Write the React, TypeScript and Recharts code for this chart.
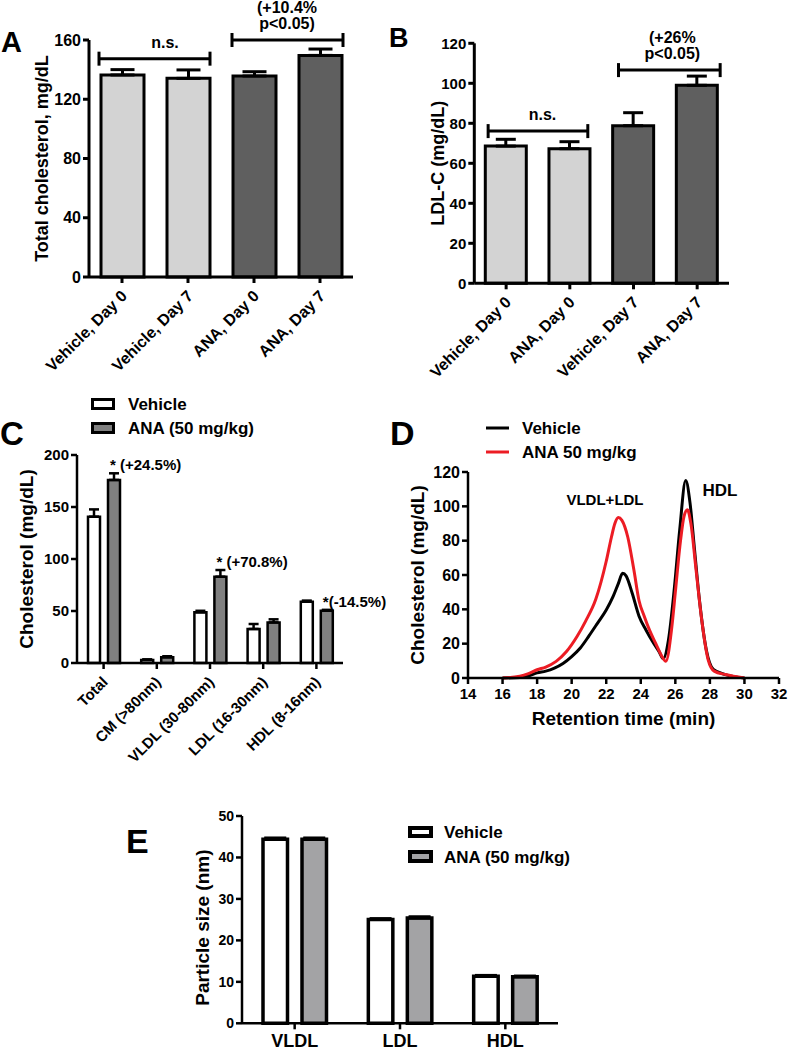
import React from 'react';
import {
  BarChart, Bar, XAxis, YAxis, ErrorBar, Cell, ReferenceLine, LabelList,
  Legend, LineChart, Line, ReferenceDot,
} from 'recharts';

const FONT = '"Liberation Sans", Arial, Helvetica, sans-serif';
const BLACK = '#000000';
const LIGHT = '#d3d3d3';
const DARK = '#5f5f5f';
const GRAY_C = '#808080';
const GRAY_E = '#a3a3a5';
const RED = '#ec1c24';

// ---------- Panel A ----------
const aCategories = ['Vehicle, Day 0', 'Vehicle, Day 7', 'ANA, Day 0', 'ANA, Day 7'];
const aValues = [136.4, 134.1, 135.7, 149.6];
const aErrors = [3.6, 5.7, 2.9, 4.3];
const aTicks = [0, 40, 80, 120, 160];
const aBrackets = [
  { from: 'Vehicle, Day 0', to: 'Vehicle, Day 7', y: 147.4, lines: ['n.s.'] },
  { from: 'ANA, Day 0', to: 'ANA, Day 7', y: 160, lines: ['(+10.4%', 'p<0.05)'] },
];

// ---------- Panel B ----------
const bCategories = ['Vehicle, Day 0', 'ANA, Day 0', 'Vehicle, Day 7', 'ANA, Day 7'];
const bValues = [68.6, 67.3, 78.8, 99.0];
const bErrors = [3.4, 3.5, 6.5, 4.6];
const bTicks = [0, 20, 40, 60, 80, 100, 120];
const bBrackets = [
  { from: 'Vehicle, Day 0', to: 'ANA, Day 0', y: 76.1, lines: ['n.s.'] },
  { from: 'Vehicle, Day 7', to: 'ANA, Day 7', y: 106.6, lines: ['(+26%', 'p<0.05)'] },
];

// ---------- Panel C ----------
const cCategories = ['Total', 'CM (>80nm)', 'VLDL (30-80nm)', 'LDL (16-30nm)', 'HDL (8-16nm)'];
const cVehicle = [140.7, 3.0, 48.7, 32.7, 59.0];
const cVehicleErr = [7.0, 0.5, 1.5, 4.8, 1.0];
const cAna = [176.0, 5.5, 83.0, 39.0, 50.3];
const cAnaErr = [6.4, 1.0, 6.4, 3.0, 0.8];
const cAnnotations = ['* (+24.5%)', '', '* (+70.8%)', '', '*(-14.5%)'];
const cTicks = [0, 50, 100, 150, 200];

// ---------- Panel D ----------
const dVehicleTime = [16, 17, 17.5, 18, 18.5, 19, 19.5, 20, 20.5, 21, 21.5, 22, 22.4, 22.7, 22.95, 23.15, 23.5, 23.9, 24.3, 24.7, 25.05, 25.3, 25.6, 25.95, 26.25, 26.6, 26.85, 27.1, 27.4, 27.8, 28.2, 28.9, 30];
const dVehicleValues = [0, 0.3, 1.2, 3, 4, 5.8, 8.5, 12.5, 17.5, 24.5, 32, 39.6, 47.5, 55, 61, 59.5, 49.5, 36, 28, 21, 15.5, 11.2, 22, 53, 86, 115, 102, 76, 45, 16, 5, 2, 0];
const dAnaTime = [16, 17, 17.5, 18, 18.5, 19.1, 19.7, 20.3, 20.8, 21.4, 22, 22.3, 22.5, 22.7, 22.9, 23.25, 23.6, 23.9, 24.2, 24.5, 24.87, 25.2, 25.45, 25.8, 26.0, 26.3, 26.5, 26.7, 26.9, 27.2, 27.5, 27.9, 28.25, 28.9, 30];
const dAnaValues = [0, 1, 2.5, 4.8, 6.4, 9.7, 15.4, 24, 33, 46, 68, 82, 90, 93.5, 92, 82, 63, 45, 36, 28, 20, 13, 9.7, 30, 50, 80, 94, 98, 90, 63, 36, 10.6, 4, 2, 0];
const dXTicks = [14, 16, 18, 20, 22, 24, 26, 28, 30, 32];
const dYTicks = [0, 20, 40, 60, 80, 100, 120];
const dPeakLabels = [
  { t: 21.93, v: 104, text: 'VLDL+LDL' },
  { t: 28.58, v: 109.5, text: 'HDL' },
];

// ---------- Panel E ----------
const eCategories = ['VLDL', 'LDL', 'HDL'];
const eVehicle = [44.4, 25.05, 11.35];
const eVehicleErr = [0.3, 0.2, 0.2];
const eAna = [44.4, 25.4, 11.2];
const eAnaErr = [0.3, 0.3, 0.2];
const eTicks = [0, 10, 20, 30, 40, 50];

// ---------- derived tables ----------
const aData = aCategories.map((name, i) => ({ name, value: aValues[i], err: [0, aErrors[i]] }));
const bData = bCategories.map((name, i) => ({ name, value: bValues[i], err: [0, bErrors[i]] }));
const cData = cCategories.map((name, i) => ({
  name, vehicle: cVehicle[i], vehicleErr: [0, cVehicleErr[i]],
  ana: cAna[i], anaErr: [0, cAnaErr[i]], annot: cAnnotations[i],
}));
const dVehicleData = dVehicleTime.map((t, i) => ({ t, v: dVehicleValues[i] }));
const dAnaData = dAnaTime.map((t, i) => ({ t, v: dAnaValues[i] }));
const eData = eCategories.map((name, i) => ({
  name, vehicle: eVehicle[i], vehicleErr: [0, eVehicleErr[i]], ana: eAna[i], anaErr: [0, eAnaErr[i]],
}));

// styles (kept apart from data)
const A_FILLS = [LIGHT, LIGHT, DARK, DARK];
const B_FILLS = [LIGHT, LIGHT, DARK, DARK];
const A_BRACKET_STYLE = [{ extL: 23, extR: 22, textDx: 10 }, { extL: 22, extR: 23, textDx: 0 }];
const B_BRACKET_STYLE = [{ extL: 18, extR: 18, textDx: 4.5 }, { extL: 15, extR: 23, textDx: 7 }];

const txt = { fontFamily: FONT, fontWeight: 'bold' as const, fill: BLACK };

const rotTick = (dx: number, dy: number, fontSize: number) => (props: any) => {
  const { x, y, payload } = props;
  const ax = Number(x) + dx;
  const ay = Number(y) + dy;
  return (
    <text x={ax} y={ay} transform={`rotate(-45 ${ax} ${ay})`} textAnchor="end" fontSize={fontSize} {...txt}>
      {payload.value}
    </text>
  );
};

const yLabel = (text: string, dx: number, fontSize: number, dy = 0) => (props: any) => {
  const vb = props.viewBox || {};
  const cx = vb.x + dx;
  const cy = vb.y + vb.height / 2 + dy;
  return (
    <text x={cx} y={cy} transform={`rotate(-90 ${cx} ${cy})`} textAnchor="middle" dominantBaseline="central" fontSize={fontSize} {...txt}>
      {text}
    </text>
  );
};

const xLabel = (text: string, dy: number, fontSize: number) => (props: any) => {
  const vb = props.viewBox || {};
  return (
    <text x={vb.x + vb.width / 2} y={vb.y + dy} textAnchor="middle" fontSize={fontSize} {...txt}>{text}</text>
  );
};

const bracketShape = (lines: string[], extL: number, extR: number, textDx: number) => (props: any) => {
  const l = Math.min(props.x1, props.x2) - extL;
  const r = Math.max(props.x1, props.x2) + extR;
  const y = props.y1;
  const cx = (props.x1 + props.x2) / 2 + textDx;
  return (
    <g>
      <line x1={l} x2={r} y1={y} y2={y} stroke={BLACK} strokeWidth={3} />
      <line x1={l} x2={l} y1={y - 7} y2={y + 7} stroke={BLACK} strokeWidth={3} />
      <line x1={r} x2={r} y1={y - 7} y2={y + 7} stroke={BLACK} strokeWidth={3} />
      {lines.map((t, i) => (
        <text key={i} x={cx} y={y - 11 - (lines.length - 1 - i) * 16} textAnchor="middle" fontSize={16} {...txt}>{t}</text>
      ))}
    </g>
  );
};

const axisStyle = (w: number) => ({ stroke: BLACK, strokeWidth: w });
const tickStyle = (fs: number) => ({ fill: BLACK, fontSize: fs, fontWeight: 'bold', fontFamily: FONT });

const renderAnnot = (props: any) => {
  const { x, y, width, height, value, index } = props;
  if (!value) return null;
  const v = cAna[index];
  const e = cAnaErr[index];
  const errTop = Number(y) - (e / v) * Number(height);
  return (
    <text x={Number(x) + Number(width) / 2 - 4} y={errTop - 3} fontSize={15} {...txt}>{value}</text>
  );
};

const boxLegend = (items: { label: string; fill: string }[], stroke: number, hs: number[], ys: number[], textX: number, baselines: number[], w: number, h: number) => () => (
  <svg width={w} height={h} style={{ display: 'block', overflow: 'visible' }}>
    {items.map((it, i) => (
      <g key={i}>
        <rect x={stroke / 2 + 3} y={ys[i]} width={21} height={hs[i]} fill={it.fill} stroke={BLACK} strokeWidth={stroke} />
        <text x={textX} y={baselines[i]} fontSize={17} {...txt}>{it.label}</text>
      </g>
    ))}
  </svg>
);

const lineLegend = () => (
  <svg width={160} height={45} style={{ display: 'block', overflow: 'visible' }}>
    <line x1={0} x2={23} y1={8} y2={8} stroke={BLACK} strokeWidth={3} />
    <text x={36} y={14} fontSize={17} {...txt}>Vehicle</text>
    <line x1={0} x2={23} y1={32} y2={32} stroke={RED} strokeWidth={3} />
    <text x={36} y={38} fontSize={17} {...txt}>ANA 50 mg/kg</text>
  </svg>
);

export default function App() {
  return (
    <div style={{ position: 'absolute', left: 0, top: 0, width: 789, height: 1050, background: '#fff', fontFamily: FONT, overflow: 'hidden' }}>
      {/* Panel A */}
      <div style={{ position: 'absolute', left: 0, top: 0 }}>
        <BarChart width={380} height={400} data={aData} margin={{ top: 40, right: 27, bottom: 13, left: 27 }} barCategoryGap={0}>
          <XAxis dataKey="name" interval={0} height={110} axisLine={axisStyle(3)} tickLine={axisStyle(3)} tickSize={6} tick={rotTick(6, 12, 16)} />
          <YAxis domain={[0, 160]} ticks={aTicks} width={62} axisLine={axisStyle(3)} tickLine={axisStyle(3)} tickSize={6} tick={tickStyle(16)} label={yLabel('Total cholesterol, mg/dL', 14.5, 18)} />
          <Bar dataKey="value" barSize={43} stroke={BLACK} strokeWidth={3} isAnimationActive={false}>
            {aData.map((d, i) => <Cell key={d.name} fill={A_FILLS[i]} />)}
            <ErrorBar dataKey="err" width={12} stroke={BLACK} strokeWidth={3} />
          </Bar>
          {aBrackets.map((b, i) => (
            <ReferenceLine key={i} segment={[{ x: b.from, y: b.y }, { x: b.to, y: b.y }]} ifOverflow="visible"
              shape={bracketShape(b.lines, A_BRACKET_STYLE[i].extL, A_BRACKET_STYLE[i].extR, A_BRACKET_STYLE[i].textDx)} />
          ))}
        </BarChart>
      </div>

      {/* Panel B */}
      <div style={{ position: 'absolute', left: 380, top: 0 }}>
        <BarChart width={409} height={400} data={bData} margin={{ top: 43.3, right: 60, bottom: 6.7, left: 34.3 }} barCategoryGap={0}>
          <XAxis dataKey="name" interval={0} height={110} axisLine={axisStyle(3)} tickLine={axisStyle(3)} tickSize={6} tick={rotTick(6, 12, 16)} />
          <YAxis domain={[0, 120]} ticks={bTicks} width={60} axisLine={axisStyle(3)} tickLine={axisStyle(3)} tickSize={6} tick={tickStyle(15)} label={yLabel('LDL-C (mg/dL)', 23.7, 18)} />
          <Bar dataKey="value" barSize={41} stroke={BLACK} strokeWidth={3} isAnimationActive={false}>
            {bData.map((d, i) => <Cell key={d.name} fill={B_FILLS[i]} />)}
            <ErrorBar dataKey="err" width={10} stroke={BLACK} strokeWidth={3} />
          </Bar>
          {bBrackets.map((b, i) => (
            <ReferenceLine key={i} segment={[{ x: b.from, y: b.y }, { x: b.to, y: b.y }]} ifOverflow="visible"
              shape={bracketShape(b.lines, B_BRACKET_STYLE[i].extL, B_BRACKET_STYLE[i].extR, B_BRACKET_STYLE[i].textDx)} />
          ))}
        </BarChart>
      </div>

      {/* Panel C */}
      <div style={{ position: 'absolute', left: 0, top: 380 }}>
        <BarChart width={400} height={385} data={cData} margin={{ top: 75, right: 57, bottom: 12, left: 22 }} barGap={8}>
          <XAxis dataKey="name" interval={0} height={90} axisLine={axisStyle(2.5)} tickLine={axisStyle(2.5)} tickSize={6} tick={rotTick(5, 12, 15)} />
          <YAxis domain={[0, 200]} ticks={cTicks} width={55} axisLine={axisStyle(2.5)} tickLine={axisStyle(2.5)} tickSize={6} tick={tickStyle(15)} label={yLabel('Cholesterol (mg/dL)', 4.5, 19)} />
          <Legend layout="vertical" verticalAlign="middle" align="center" wrapperStyle={{ left: 88, top: 15, width: 200, height: 45 }}
            content={boxLegend([{ label: 'Vehicle', fill: '#ffffff' }, { label: 'ANA (50 mg/kg)', fill: GRAY_C }], 3, [9, 9], [4.5, 28.5], 40, [15, 39], 200, 45)} />
          <Bar dataKey="vehicle" name="Vehicle" barSize={12} fill="#ffffff" stroke={BLACK} strokeWidth={2.5} isAnimationActive={false}>
            <ErrorBar dataKey="vehicleErr" width={5} stroke={BLACK} strokeWidth={2.5} />
          </Bar>
          <Bar dataKey="ana" name="ANA (50 mg/kg)" barSize={12} fill={GRAY_C} stroke={BLACK} strokeWidth={2.5} isAnimationActive={false}>
            <ErrorBar dataKey="anaErr" width={5} stroke={BLACK} strokeWidth={2.5} />
            <LabelList dataKey="annot" content={renderAnnot} />
          </Bar>
        </BarChart>
      </div>

      {/* Panel D */}
      <div style={{ position: 'absolute', left: 380, top: 400 }}>
        <LineChart width={409} height={340} margin={{ top: 72, right: 10, bottom: 7, left: 33 }}>
          <XAxis type="number" dataKey="t" domain={[14, 32]} ticks={dXTicks} height={55} axisLine={axisStyle(2.5)} tickLine={axisStyle(2.5)} tickSize={6} tickMargin={4} tick={tickStyle(15)} label={xLabel('Retention time (min)', 47, 19)} />
          <YAxis domain={[0, 120]} ticks={dYTicks} width={55} axisLine={axisStyle(2.5)} tickLine={axisStyle(2.5)} tickSize={6} tick={tickStyle(16)} label={yLabel('Cholesterol (mg/dL)', 4.5, 19)} />
          <Legend layout="vertical" verticalAlign="middle" align="center" wrapperStyle={{ left: 106, top: 20, width: 160, height: 45 }} content={lineLegend} />
          <Line data={dVehicleData} dataKey="v" name="Vehicle" type="monotone" stroke={BLACK} strokeWidth={3} dot={false} isAnimationActive={false} />
          <Line data={dAnaData} dataKey="v" name="ANA 50 mg/kg" type="monotone" stroke={RED} strokeWidth={3} dot={false} isAnimationActive={false} />
          {dPeakLabels.map((p, i) => (
            <ReferenceDot key={i} x={p.t} y={p.v} r={0} fill="none" stroke="none" ifOverflow="visible"
              label={{ value: p.text, position: 'center', fill: BLACK, fontSize: i === 0 ? 15 : 17, fontWeight: 'bold', fontFamily: FONT }} />
          ))}
        </LineChart>
      </div>

      {/* Panel E */}
      <div style={{ position: 'absolute', left: 90, top: 790 }}>
        <BarChart width={500} height={260} data={eData} margin={{ top: 26, right: 32, bottom: 0.7, left: 102 }} barGap={14.5}>
          <XAxis dataKey="name" interval={0} height={26} axisLine={axisStyle(2.5)} tickLine={axisStyle(2.5)} tickSize={6} tickMargin={5} tick={tickStyle(18)} />
          <YAxis domain={[0, 50]} ticks={eTicks} width={50} axisLine={axisStyle(2.5)} tickLine={axisStyle(2.5)} tickSize={6} tick={tickStyle(14)} label={yLabel('Particle size (nm)', 11, 19, 8)} />
          <Legend layout="vertical" verticalAlign="middle" align="center" wrapperStyle={{ left: 315, top: 32, width: 180, height: 46 }}
            content={boxLegend([{ label: 'Vehicle', fill: '#ffffff' }, { label: 'ANA (50 mg/kg)', fill: GRAY_E }], 4, [8, 9], [6, 30], 39, [16, 41], 180, 46)} />
          <Bar dataKey="vehicle" name="Vehicle" barSize={24.5} fill="#ffffff" stroke={BLACK} strokeWidth={3.5} isAnimationActive={false}>
            <ErrorBar dataKey="vehicleErr" width={11} stroke={BLACK} strokeWidth={3} />
          </Bar>
          <Bar dataKey="ana" name="ANA (50 mg/kg)" barSize={24.5} fill={GRAY_E} stroke={BLACK} strokeWidth={3.5} isAnimationActive={false}>
            <ErrorBar dataKey="anaErr" width={11} stroke={BLACK} strokeWidth={3} />
          </Bar>
        </BarChart>
      </div>

      {/* Panel letters */}
      <svg width={789} height={1050} style={{ position: 'absolute', left: 0, top: 0, pointerEvents: 'none' }}>
        <text x={1} y={52} fontSize={29} {...txt}>A</text>
        <text x={389} y={47} fontSize={27} {...txt}>B</text>
        <text x={0} y={445} fontSize={33} {...txt}>C</text>
        <text x={390} y={445} fontSize={34} {...txt}>D</text>
        <text x={126} y={853} fontSize={34} {...txt}>E</text>
      </svg>
    </div>
  );
}
